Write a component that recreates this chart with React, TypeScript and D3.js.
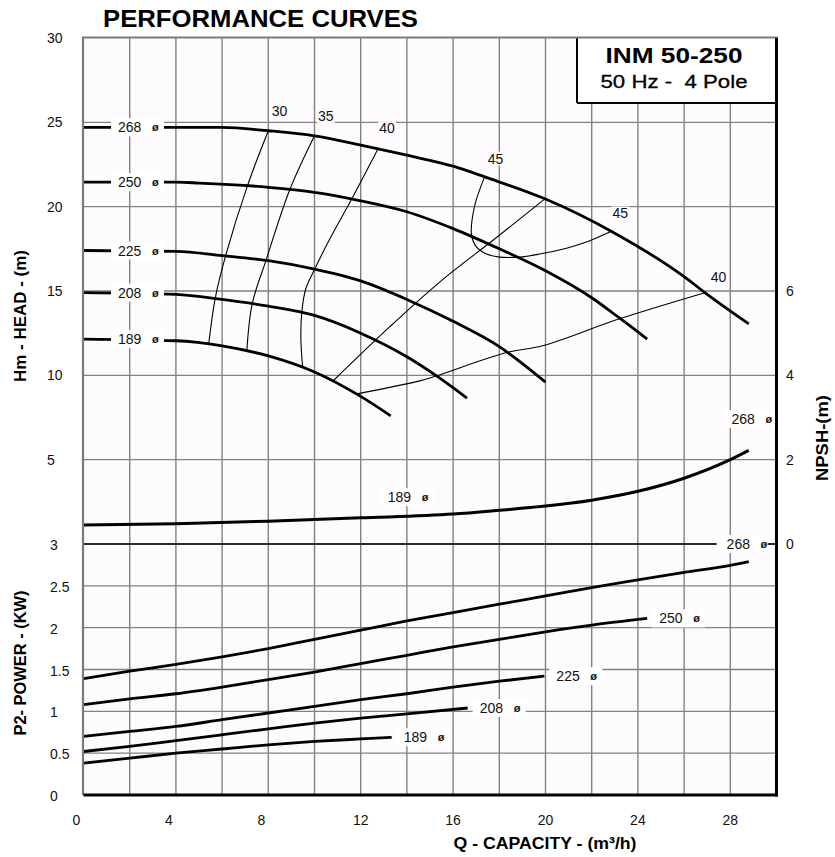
import React from "react";
import * as d3 from "d3";

// ---------- data ----------
const capacityTicks = [0, 4, 8, 12, 16, 20, 24, 28];
const capacityGrid = [2, 4, 6, 8, 10, 12, 14, 16, 18, 20, 22, 24, 26, 28];
const headTicks = [5, 10, 15, 20, 25, 30];
const headGrid = [5, 10, 15, 20, 25];
const powerTicks = [0, 0.5, 1, 1.5, 2, 2.5, 3];
const powerGrid = [0.5, 1, 1.5, 2, 2.5];
const npshTicks = [0, 2, 4, 6];

const diameters = ["268", "250", "225", "208", "189"];

// Head curves [Q m3/h, H m]
const head268 = [[0, 24.7], [4, 24.7], [6, 24.7], [8, 24.5], [10, 24.2], [12, 23.65], [14, 23.05], [16, 22.4], [17.4, 21.75], [20, 20.45], [22.9, 18.5], [26, 15.85], [27, 14.8], [28.8, 13.05]];
const head250 = [[0, 21.45], [4, 21.45], [5, 21.4], [8, 21.15], [10, 20.85], [12, 20.35], [14, 19.7], [16, 18.7], [18, 17.5], [20, 16.2], [22, 14.6], [23.2, 13.4], [24.4, 12.15]];
const head225 = [[0, 17.4], [4, 17.35], [6, 17.1], [8, 16.8], [10, 16.3], [12, 15.6], [14, 14.5], [16, 13.2], [18, 11.7], [19, 10.7], [20, 9.6]];
const head208 = [[0, 14.9], [4, 14.8], [6, 14.5], [8, 14.1], [10, 13.55], [12, 12.5], [14, 11.1], [15.3, 9.95], [16.6, 8.65]];
const head189 = [[0, 12.15], [4, 12.05], [6, 11.75], [8, 11.15], [10, 10.2], [12, 8.75], [13.3, 7.6]];
const headCurves = [head268, head250, head225, head208, head189];

// Efficiency iso-lines [Q, H]
const eff30 = [[8.0, 24.5], [7.1, 21.25], [6.15, 17.08], [5.7, 14.55], [5.42, 11.84]];
const eff35 = [[10.0, 24.2], [8.93, 21.0], [7.9, 16.82], [7.3, 14.22], [7.07, 11.43]];
const eff40 = [[12.74, 23.4], [11.61, 20.45], [10.66, 18.08], [10.01, 16.3], [9.62, 15.12], [9.45, 13.74], [9.41, 12.16], [9.49, 10.44]];
const eff45 = [[17.36, 21.75], [16.93, 20.03], [16.8, 18.3], [17.02, 17.6], [17.45, 17.19], [18.01, 17.01], [18.87, 17.01], [19.74, 17.19], [20.91, 17.54], [21.77, 17.9], [22.85, 18.54]];
const effBest = [[19.96, 20.45], [17.88, 18.17], [15.42, 15.53], [13.25, 12.87], [10.79, 9.65]];
const eff40b = [[26.9, 14.9], [23.2, 13.35], [19.87, 11.75], [18.31, 11.35], [15.29, 9.97], [14.55, 9.67], [11.83, 8.9]];
const effLines = [eff30, eff35, eff40, eff45, effBest, eff40b];
// Efficiency labels [text, Q, H]
const effLabelText = ["30", "35", "40", "45", "45", "40"];
const effLabelQ = [8.15, 10.15, 12.8, 17.5, 22.9, 27.15];
const effLabelH = [25.35, 25.05, 24.35, 22.55, 19.3, 15.55];

// NPSH curve [Q, NPSH m]
const npsh = [[0, 0.45], [4, 0.48], [8, 0.54], [12, 0.62], [16, 0.71], [18, 0.8], [20, 0.9], [22, 1.04], [24, 1.25], [26, 1.56], [28, 2.0], [28.8, 2.22]];
const npshLabelText = ["189", "268"];
const npshLabelQ = [13.17, 28.05];
const npshLabelV = [1.11, 2.96];

// Power curves [Q, P2 kW]
const power268 = [[0, 1.39], [2, 1.48], [4, 1.56], [6, 1.65], [8, 1.75], [10, 1.86], [12, 1.97], [14, 2.08], [16, 2.18], [18, 2.28], [20, 2.38], [22, 2.48], [24, 2.57], [26, 2.66], [28, 2.745], [28.8, 2.79]];
const power250 = [[0, 1.08], [2, 1.15], [4, 1.21], [6, 1.29], [8, 1.38], [10, 1.47], [12, 1.57], [14, 1.67], [16, 1.77], [18, 1.86], [20, 1.95], [22, 2.03], [24.4, 2.11]];
const power225 = [[0, 0.7], [2, 0.76], [4, 0.82], [6, 0.9], [8, 0.98], [10, 1.06], [12, 1.14], [14, 1.21], [16, 1.29], [18, 1.36], [19.95, 1.42]];
const power208 = [[0, 0.52], [2, 0.58], [4, 0.65], [6, 0.72], [8, 0.79], [10, 0.86], [12, 0.92], [14, 0.97], [16.63, 1.04]];
const power189 = [[0, 0.38], [2, 0.44], [4, 0.5], [6, 0.55], [8, 0.6], [10, 0.64], [12, 0.67], [13.34, 0.69]];
const powerCurves = [power268, power250, power225, power208, power189];
const separatorLabelQ = 27.84;

// ---------- layout ----------
const W = 835;
const H = 857;
const L = 83.5, R = 776.5, T = 38, B = 795;
const FONT = "'Liberation Sans', Arial, Helvetica, sans-serif";

const x = d3.scaleLinear().domain([0, 30]).range([L, R]);
const yH = d3.scaleLinear().domain([0, 30]).range([544, T]);
const yP = d3.scaleLinear().domain([0, 3]).range([B, 544]);
const yN = d3.scaleLinear().domain([0, 12]).range([544, T]);

const headLine = d3.line<number[]>().x(d => x(d[0])).y(d => yH(d[1])).curve(d3.curveMonotoneX);
const effLine = d3.line<number[]>().x(d => x(d[0])).y(d => yH(d[1])).curve(d3.curveCatmullRom.alpha(0.5));
const powLine = d3.line<number[]>().x(d => x(d[0])).y(d => yP(d[1])).curve(d3.curveMonotoneX);
const npshLine = d3.line<number[]>().x(d => x(d[0])).y(d => yN(d[1])).curve(d3.curveMonotoneX);

function DiaLabel({ tx, cy, text, boxLeft = 7, boxRight = 46 }: { tx: number; cy: number; text: string; boxLeft?: number; boxRight?: number }) {
  return (
    <g>
      <rect x={tx - boxLeft} y={cy - 9} width={boxLeft + boxRight} height={18} fill="#ffffff" />
      <text x={tx} y={cy + 5} fontSize={14} fontFamily={FONT} fill="#111">{text}</text>
      <text x={tx + 34} y={cy + 4} fontSize={11} fontWeight="bold" fontFamily={FONT} fill="#111">ø</text>
    </g>
  );
}

export default function App() {
  return (
    <svg width={W} height={H} viewBox={`0 0 ${W} ${H}`} style={{ display: "block", position: "absolute", left: 0, top: 0, background: "#fff" }}>
      {/* title */}
      <text x={103} y={27} fontSize={24} fontWeight="bold" fontFamily={FONT} textLength={315} lengthAdjust="spacingAndGlyphs" fill="#000">PERFORMANCE CURVES</text>

      {/* plot background */}
      <rect x={L} y={T} width={R - L} height={B - T} fill="#fefbfe" />

      {/* grid */}
      {capacityGrid.map(q => (
        <line key={"vg" + q} x1={x(q)} x2={x(q)} y1={T} y2={B} stroke="#828282" strokeWidth={1.4} />
      ))}
      {headGrid.map(h => (
        <line key={"hg" + h} x1={L} x2={R} y1={yH(h)} y2={yH(h)} stroke="#828282" strokeWidth={1.4} />
      ))}
      {powerGrid.map(p => (
        <line key={"pg" + p} x1={L} x2={R} y1={yP(p)} y2={yP(p)} stroke="#828282" strokeWidth={1.4} />
      ))}
      <line x1={L} x2={R} y1={yP(3)} y2={yP(3)} stroke="#2a2a2a" strokeWidth={2} />

      {/* model box */}
      <rect x={577} y={T} width={R - 577} height={65} fill="#ffffff" />
      <line x1={577} x2={577} y1={T} y2={T + 65} stroke="#000" strokeWidth={2} />
      <line x1={577} x2={R} y1={T + 65} y2={T + 65} stroke="#000" strokeWidth={2} />
      <text x={674} y={63} fontSize={22} fontWeight="bold" fontFamily={FONT} textAnchor="middle" textLength={137} lengthAdjust="spacingAndGlyphs" fill="#000">INM 50-250</text>
      <text x={674} y={88} fontSize={18} fontFamily={FONT} textAnchor="middle" textLength={147} lengthAdjust="spacingAndGlyphs" fill="#000" stroke="#000" strokeWidth={0.3}>{"50 Hz - \u00a04 Pole"}</text>

      {/* efficiency lines */}
      {effLines.map((d, i) => (
        <path key={"eff" + i} d={effLine(d) || ""} fill="none" stroke="#000" strokeWidth={1.1} />
      ))}

      {/* head curves */}
      {headCurves.map((d, i) => (
        <path key={"hc" + i} d={headLine(d) || ""} fill="none" stroke="#000" strokeWidth={2.8} strokeLinejoin="round" />
      ))}

      {/* efficiency labels */}
      {effLabelText.map((t, i) => (
        <g key={"el" + i}>
          <rect x={x(effLabelQ[i]) - 1} y={yH(effLabelH[i]) - 12} width={18} height={14} fill="#fefbfe" />
          <text x={x(effLabelQ[i])} y={yH(effLabelH[i])} fontSize={14} fontFamily={FONT} fill="#111">{t}</text>
        </g>
      ))}

      {/* head diameter labels */}
      {headCurves.map((d, i) => (
        <DiaLabel key={"hl" + i} tx={118} cy={yH(d[0][1])} text={diameters[i]} />
      ))}

      {/* NPSH curve */}
      <path d={npshLine(npsh) || ""} fill="none" stroke="#000" strokeWidth={3} />
      {npshLabelText.map((t, i) => (
        <DiaLabel key={"nl" + i} tx={x(npshLabelQ[i])} cy={yN(npshLabelV[i])} text={t} />
      ))}

      {/* power curves */}
      {powerCurves.map((d, i) => (
        <path key={"pc" + i} d={powLine(d) || ""} fill="none" stroke="#000" strokeWidth={2.8} />
      ))}
      {powerCurves.slice(1).map((d, i) => {
        const last = d[d.length - 1];
        return <DiaLabel key={"pl" + i} tx={x(last[0]) + 12} cy={yP(last[1])} text={diameters[i + 1]} />;
      })}
      <DiaLabel tx={x(separatorLabelQ)} cy={yP(3)} text={diameters[0]} boxLeft={10} boxRight={41} />

      {/* frame */}
      <line x1={L - 0.5} x2={L - 0.5} y1={T} y2={B} stroke="#7a7a7a" strokeWidth={2.2} />
      <line x1={L - 1.5} x2={R + 1.5} y1={T - 0.5} y2={T - 0.5} stroke="#7a7a7a" strokeWidth={2.2} />
      <line x1={R} x2={R} y1={T} y2={B + 1.5} stroke="#000" strokeWidth={3} />
      <line x1={L} x2={R + 1.5} y1={B} y2={B} stroke="#000" strokeWidth={3} />

      {/* left head ticks */}
      {headTicks.map(h => (
        <text key={"ht" + h} x={47} y={yH(h) + 5} fontSize={14} fontFamily={FONT} fill="#111">{h}</text>
      ))}
      {/* left power ticks */}
      {powerTicks.map(p => (
        <text key={"pt" + p} x={50} y={yP(p) + 6} fontSize={14} fontFamily={FONT} fill="#111">{p}</text>
      ))}
      {/* right npsh ticks */}
      {npshTicks.map(n => (
        <text key={"nt" + n} x={786} y={yN(n) + 5} fontSize={14} fontFamily={FONT} fill="#111">{n}</text>
      ))}
      {/* bottom capacity ticks */}
      {capacityTicks.map(q => (
        <text key={"qt" + q} x={x(q) - (q < 12 ? 7 : 0)} y={825} fontSize={14} fontFamily={FONT} textAnchor="middle" fill="#111">{q}</text>
      ))}

      {/* axis titles */}
      <text transform="translate(26,316) rotate(-90)" fontSize={16} fontWeight="bold" fontFamily={FONT} textAnchor="middle" textLength={132} lengthAdjust="spacingAndGlyphs" fill="#000">Hm - HEAD - (m)</text>
      <text transform="translate(26,663) rotate(-90)" fontSize={16} fontWeight="bold" fontFamily={FONT} textAnchor="middle" textLength={145} lengthAdjust="spacingAndGlyphs" fill="#000">P2- POWER - (KW)</text>
      <text transform="translate(828,438) rotate(-90)" fontSize={16} fontWeight="bold" fontFamily={FONT} textAnchor="middle" textLength={86} lengthAdjust="spacingAndGlyphs" fill="#000">NPSH-(m)</text>
      <text x={545} y={849} fontSize={17} fontWeight="bold" fontFamily={FONT} textAnchor="middle" textLength={183} lengthAdjust="spacingAndGlyphs" fill="#000">Q - CAPACITY - (m³/h)</text>
    </svg>
  );
}
